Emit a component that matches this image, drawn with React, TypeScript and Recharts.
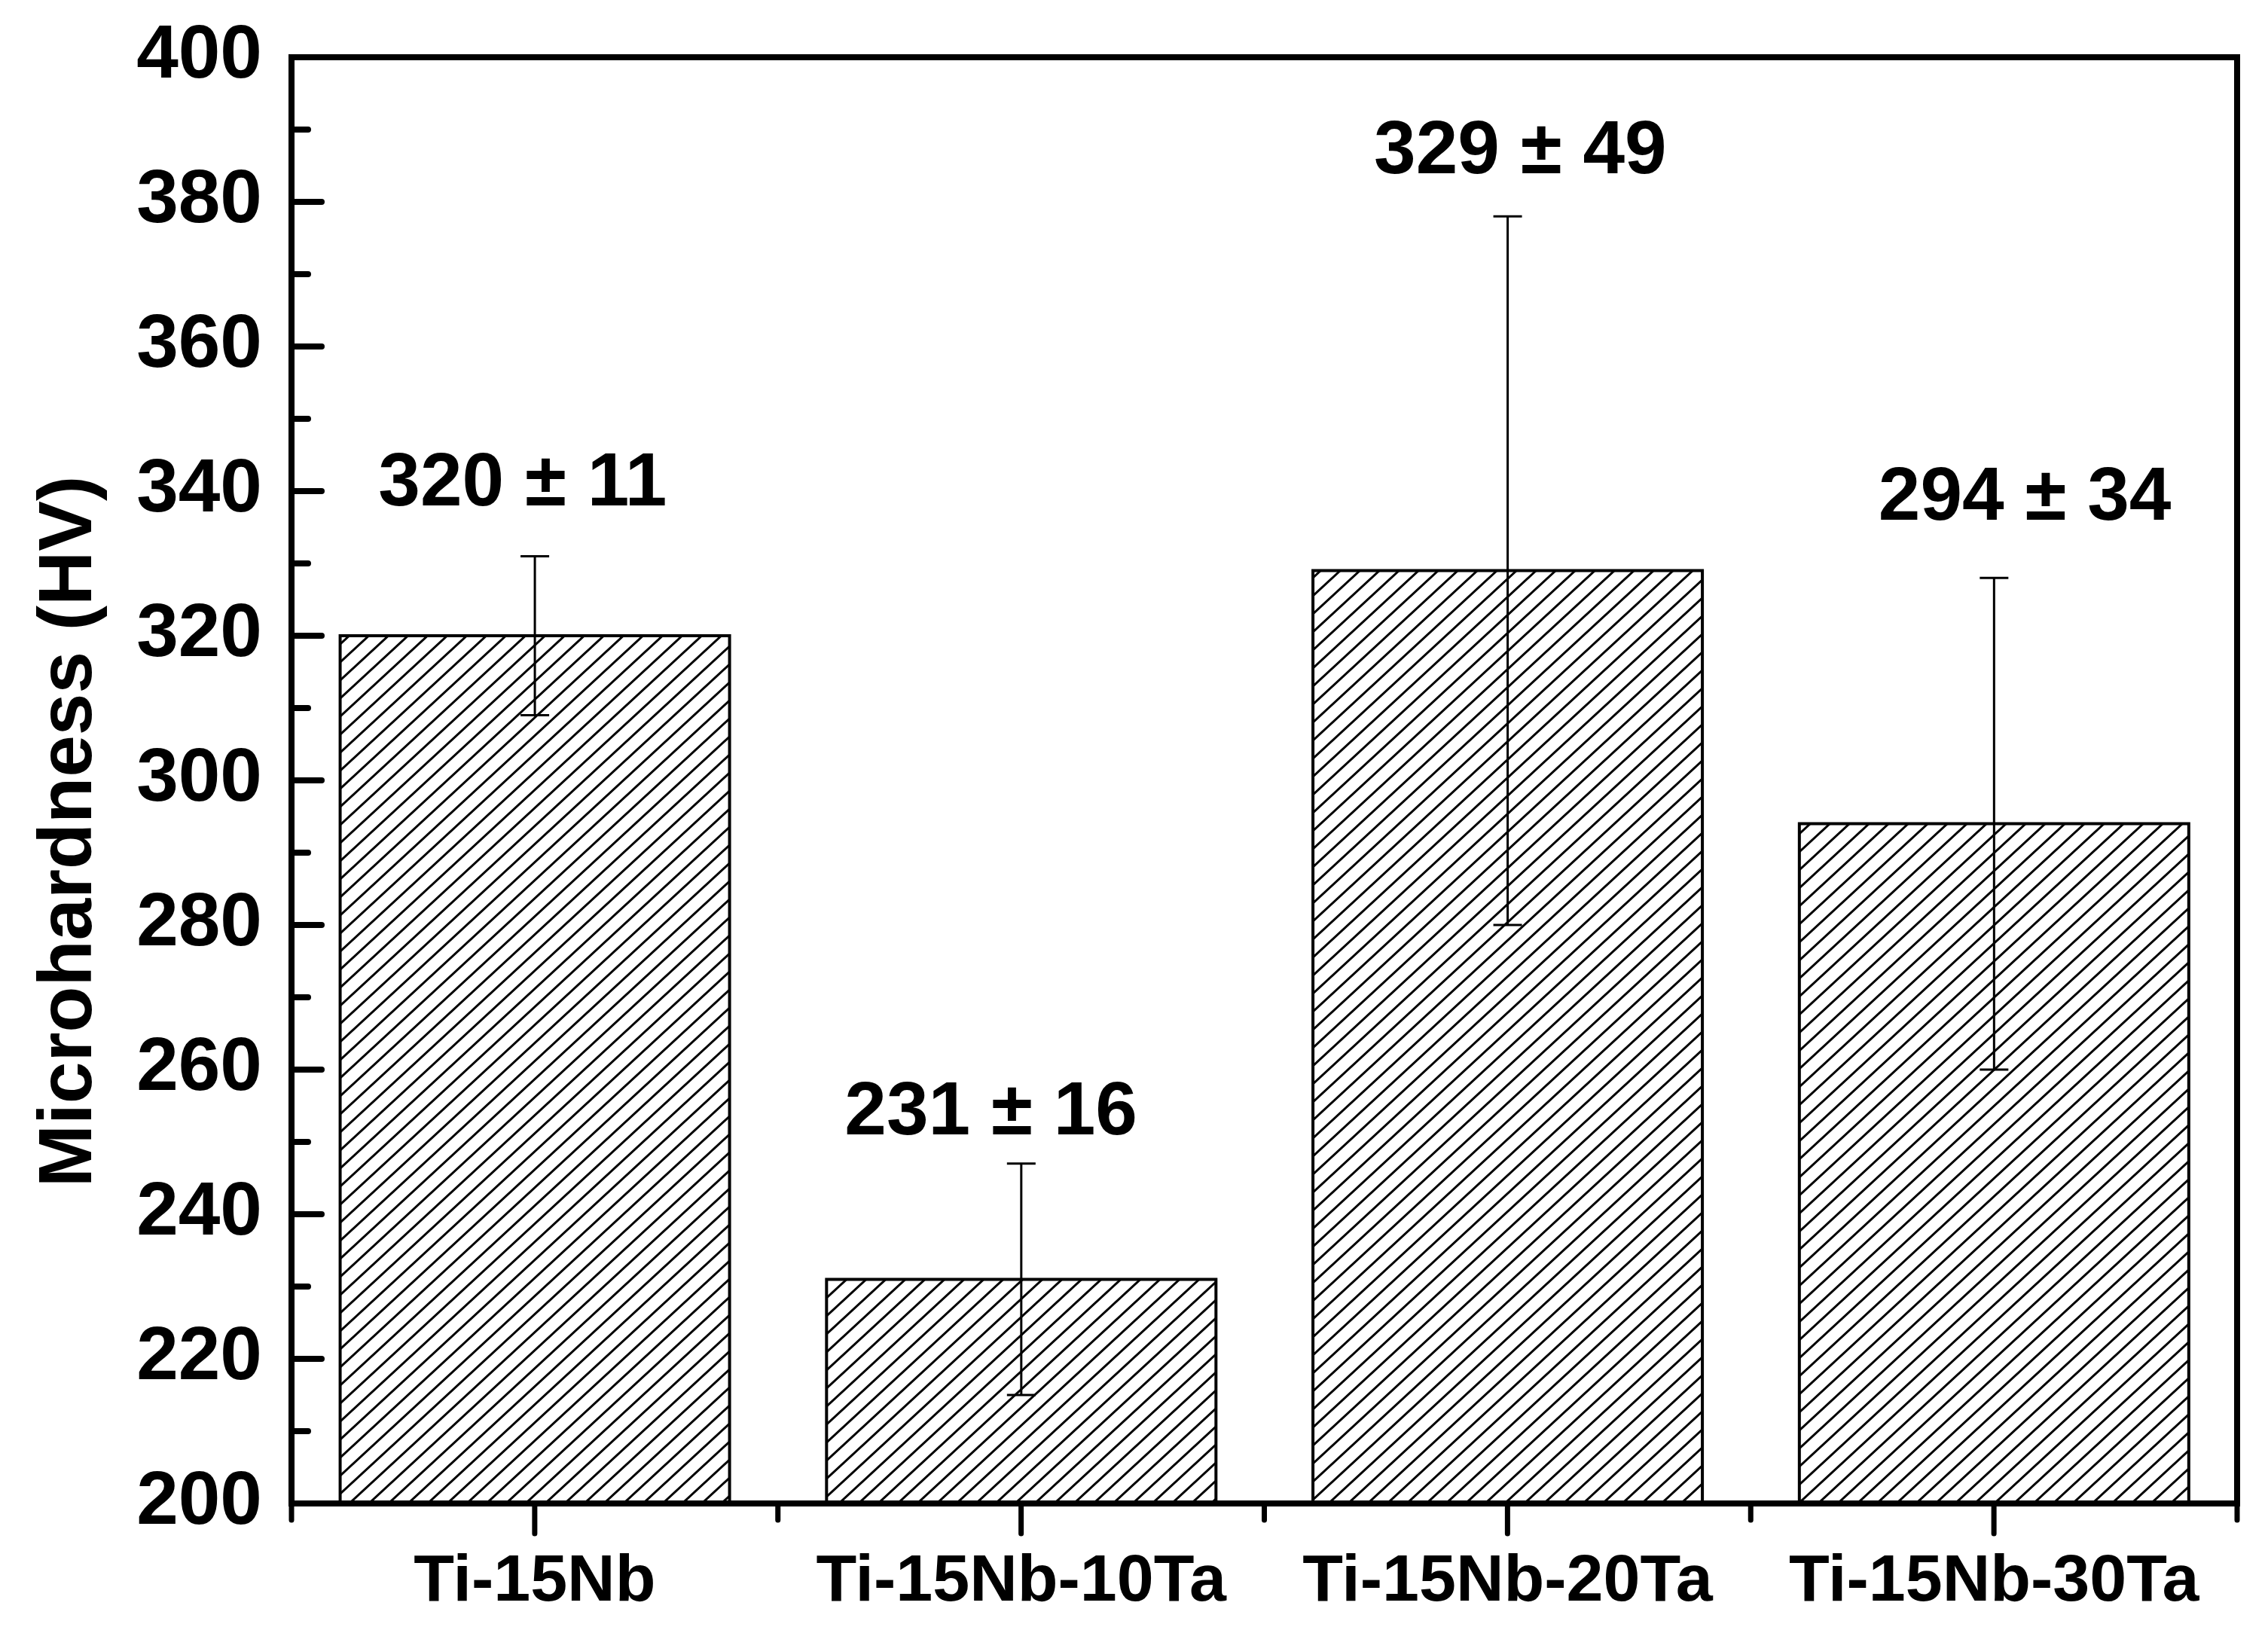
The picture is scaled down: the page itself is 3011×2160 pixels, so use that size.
import React from 'react';
import { ComposedChart, Bar, ErrorBar, Scatter, XAxis, YAxis, ReferenceArea, Label } from 'recharts';

// alloys and measured microhardness (HV) with standard deviation
const alloys = ['Ti-15Nb', 'Ti-15Nb-10Ta', 'Ti-15Nb-20Ta', 'Ti-15Nb-30Ta'];
const hardness = [320, 231, 329, 294];
const deviation = [11, 16, 49, 34];
// height (in HV) at which each "mean ± sd" note sits
const noteAt = [338, 251, 384, 336];
const yTicks = [200, 210, 220, 230, 240, 250, 260, 270, 280, 290, 300, 310, 320, 330, 340, 350, 360, 370, 380, 390, 400];

// horizontal nudge of the notes, px
const noteNudge = [-16, -40, 17, 41];

const W = 3011;
const H = 2160;
const M = { top: 76, right: 41, bottom: 0, left: 0 };
const Y_AXIS_W = 387;
const X_AXIS_H = 164;
const FONT = "'Liberation Sans', Arial, Helvetica, sans-serif";

const data = alloys.map((name, i) => ({
  name,
  hv: hardness[i],
  err: deviation[i],
  note: noteAt[i],
  text: `${hardness[i]} ± ${deviation[i]}`,
  i,
}));

const halfBand = (W - M.left - M.right - Y_AXIS_W) / alloys.length / 2;

const YTick = (props: any) => {
  const { x, y, payload } = props;
  const major = payload.value % 20 === 0;
  return (
    <g>
      <line x1={x} x2={x + (major ? 40 : 22)} y1={y} y2={y} stroke="#000" strokeWidth={8} strokeLinecap="round" />
      {major && (
        <text x={x - 39} y={y + 27} textAnchor="end" fontFamily={FONT} fontWeight="bold" fontSize={100} fill="#000">
          {payload.value}
        </text>
      )}
    </g>
  );
};

const XTick = (props: any) => {
  const { x, y, payload, index } = props;
  return (
    <g>
      <line x1={x} x2={x} y1={y} y2={y + 40} stroke="#000" strokeWidth={7} strokeLinecap="round" />
      <line x1={x - halfBand} x2={x - halfBand} y1={y} y2={y + 22} stroke="#000" strokeWidth={7} strokeLinecap="round" />
      {index === alloys.length - 1 && (
        <line x1={x + halfBand} x2={x + halfBand} y1={y} y2={y + 22} stroke="#000" strokeWidth={7} strokeLinecap="round" />
      )}
      <text x={x} y={y + 129} textAnchor="middle" fontFamily={FONT} fontWeight="bold" fontSize={88} fill="#000">
        {payload.value}
      </text>
    </g>
  );
};

const Note = (props: any) => {
  const { cx, cy, payload } = props;
  if (cx == null || cy == null) return null;
  return (
    <text x={cx + noteNudge[payload.i]} y={cy} textAnchor="middle" fontFamily={FONT} fontWeight="bold" fontSize={100} fill="#000">
      {payload.text}
    </text>
  );
};

const YTitle = (props: any) => {
  const vb = props.viewBox || { x: 0, y: M.top, width: Y_AXIS_W, height: 1920 };
  const cx = vb.x + 121;
  const cy = vb.y + vb.height / 2 + 68;
  return (
    <text x={cx} y={cy} transform={`rotate(-90, ${cx}, ${cy})`} textAnchor="middle" fontFamily={FONT} fontWeight="bold" fontSize={100} fill="#000">
      Microhardness (HV)
    </text>
  );
};

const hw = 26;
const hh = 24;

export default function App() {
  return (
    <div style={{ position: 'absolute', left: 0, top: 0, width: W, height: H, background: '#fff' }}>
      <ComposedChart width={W} height={H} data={data} margin={M}>
        <defs>
          <pattern id="hatch" patternUnits="userSpaceOnUse" width={hw} height={hh}>
            <rect width={hw} height={hh} fill="#fff" />
            <path
              d={`M${-hw},${2 * hh} L${2 * hw},${-hh} M0,${2 * hh} L${3 * hw},${-hh} M${-2 * hw},${2 * hh} L${hw},${-hh}`}
              stroke="#000"
              strokeWidth={3}
            />
          </pattern>
        </defs>
        <XAxis
          dataKey="name"
          height={X_AXIS_H}
          axisLine={{ stroke: '#000', strokeWidth: 8 }}
          tickLine={false}
          tickSize={0}
          tickMargin={0}
          interval={0}
          tick={<XTick />}
        />
        <YAxis
          domain={[200, 400]}
          ticks={yTicks}
          interval={0}
          width={Y_AXIS_W}
          axisLine={{ stroke: '#000', strokeWidth: 8 }}
          tickLine={false}
          tickSize={0}
          tickMargin={0}
          tick={<YTick />}
        >
          <Label content={<YTitle />} />
        </YAxis>
        <Bar dataKey="hv" fill="url(#hatch)" stroke="#000" strokeWidth={4} isAnimationActive={false}>
          <ErrorBar dataKey="err" width={19} stroke="#000" strokeWidth={3} direction="y" />
        </Bar>
        <Scatter dataKey="note" shape={<Note />} isAnimationActive={false} />
        <ReferenceArea y1={200} y2={400} fill="none" stroke="#000" strokeWidth={8} ifOverflow="visible" />
      </ComposedChart>
    </div>
  );
}
